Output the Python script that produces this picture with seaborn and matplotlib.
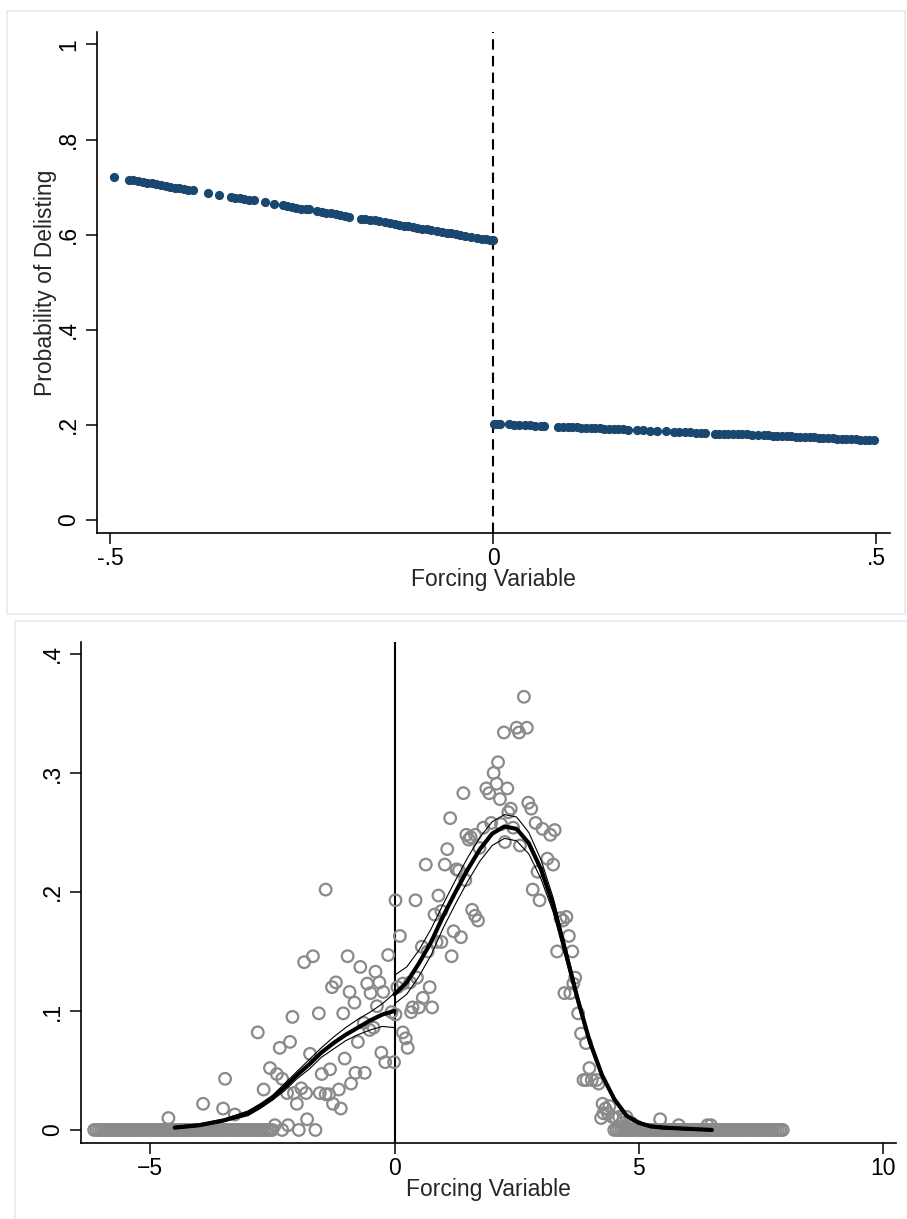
import matplotlib
matplotlib.use('Agg')
import matplotlib.pyplot as plt
from matplotlib.patches import Rectangle
import seaborn as sns
import pandas as pd

sns.set_style('ticks')
plt.rcParams['font.family'] = ['Liberation Sans', 'DejaVu Sans']

# ── Panel 1 : predicted probability of delisting ─────────────────────
below_x = [-0.495, -0.476, -0.470, -0.464, -0.458, -0.452, -0.446, -0.440, -0.434, -0.428,
           -0.422, -0.416, -0.410, -0.404, -0.398, -0.392, -0.373, -0.358, -0.343, -0.337,
           -0.331, -0.325, -0.319, -0.313, -0.298, -0.286, -0.275, -0.269, -0.263, -0.257,
           -0.251, -0.245, -0.241, -0.230, -0.224, -0.218, -0.212, -0.206, -0.200, -0.194,
           -0.188, -0.173, -0.167, -0.161, -0.155, -0.149, -0.142, -0.135, -0.129, -0.123,
           -0.117, -0.112, -0.105, -0.099, -0.093, -0.087, -0.081, -0.074, -0.067, -0.061,
           -0.055, -0.049, -0.043, -0.037, -0.029, -0.021, -0.015, -0.009, -0.004, -0.001]
below_p = [0.721, 0.716, 0.714, 0.712, 0.711, 0.709, 0.708, 0.706, 0.704, 0.703,
           0.701, 0.699, 0.698, 0.696, 0.695, 0.693, 0.688, 0.684, 0.680, 0.678,
           0.677, 0.675, 0.673, 0.672, 0.668, 0.665, 0.662, 0.660, 0.658, 0.657,
           0.655, 0.654, 0.653, 0.650, 0.648, 0.646, 0.645, 0.643, 0.642, 0.640,
           0.638, 0.634, 0.633, 0.631, 0.630, 0.628, 0.626, 0.624, 0.623, 0.621,
           0.619, 0.618, 0.616, 0.615, 0.613, 0.611, 0.610, 0.608, 0.606, 0.604,
           0.603, 0.601, 0.600, 0.598, 0.596, 0.594, 0.592, 0.590, 0.589, 0.588]

above_x = [0.001, 0.005, 0.009, 0.020, 0.027, 0.034, 0.041, 0.048, 0.055, 0.062,
           0.066, 0.085, 0.091, 0.097, 0.103, 0.109, 0.115, 0.121, 0.127, 0.133,
           0.139, 0.145, 0.151, 0.157, 0.163, 0.169, 0.176, 0.187, 0.196, 0.205,
           0.214, 0.225, 0.236, 0.243, 0.250, 0.257, 0.264, 0.271, 0.277, 0.289,
           0.295, 0.301, 0.307, 0.313, 0.319, 0.325, 0.331, 0.338, 0.345, 0.353,
           0.359, 0.365, 0.371, 0.377, 0.383, 0.389, 0.395, 0.401, 0.407, 0.413,
           0.419, 0.425, 0.431, 0.437, 0.443, 0.449, 0.455, 0.461, 0.467, 0.473,
           0.479, 0.485, 0.491, 0.497]
above_p = [0.202, 0.202, 0.201, 0.201, 0.200, 0.200, 0.199, 0.199, 0.198, 0.198,
           0.198, 0.196, 0.196, 0.195, 0.195, 0.195, 0.194, 0.194, 0.193, 0.193,
           0.193, 0.192, 0.192, 0.191, 0.191, 0.191, 0.190, 0.189, 0.189, 0.188,
           0.187, 0.187, 0.186, 0.185, 0.185, 0.185, 0.184, 0.184, 0.183, 0.182,
           0.182, 0.182, 0.181, 0.181, 0.180, 0.180, 0.180, 0.179, 0.179, 0.178,
           0.178, 0.177, 0.177, 0.176, 0.176, 0.176, 0.175, 0.175, 0.174, 0.174,
           0.174, 0.173, 0.173, 0.172, 0.172, 0.171, 0.171, 0.171, 0.170, 0.170,
           0.169, 0.169, 0.169, 0.168]

top_xticks = [-0.5, 0, 0.5]
top_xlabels = ['-.5', '0', '.5']
top_yticks = [0, 0.2, 0.4, 0.6, 0.8, 1]
top_ylabels = ['0', '.2', '.4', '.6', '.8', '1']

# ── Panel 2 : density test (binned histogram + local fit) ───────────
bin_x = [-4.63, -3.92, -3.51, -3.47, -3.27, -2.80, -2.68, -2.55, -2.41, -2.35,
         -2.30, -2.20, -2.14, -2.09, -2.00, -2.06, -1.91, -1.85, -1.79, -1.73,
         -1.67, -1.81, -1.55, -1.49, -1.41, -1.53, -1.41, -1.34, -1.32, -1.28,
         -1.20, -1.26, -1.10, -1.14, -1.05, -1.02, -0.96, -0.92, -0.89, -0.82,
         -0.75, -0.80, -0.70, -0.63, -0.61, -0.56, -0.49, -0.43, -0.39, -0.36,
         -0.31, -0.27, -0.23, -0.19, -0.13, -0.06, -0.01, -0.51, -2.45, -2.18,
         0.02, 0.11, 0.06, 0.02, 0.17, 0.32, 0.17, 0.23, 0.27, 0.34,
         0.37, 0.43, 0.46, 0.50, 0.56, 0.58, 0.64, 0.68, 0.72, 0.77,
         0.82, 0.90, 0.86, 0.96, 0.96, 1.03, 1.08, 1.14, 1.17, 1.21,
         1.27, 1.32, 1.36, 1.41, 1.45, 1.47, 1.52, 1.56, 1.59, 1.65,
         1.71, 1.65, 1.74, 1.82, 1.88, 1.94, 1.98, 2.03, 2.09, 2.12,
         2.16, 2.18, 2.24, 2.26, 2.31, 2.33, 2.38, 2.43, 2.50, 2.55,
         2.57, 2.65, 2.71, 2.74, 2.80, 2.83, 2.89, 2.93, 2.97, 3.03,
         3.13, 3.19, 3.25, 3.28, 3.33, 3.40, 3.45, 3.52, 3.57, 3.64,
         3.66, 3.70, 3.48, 3.60, 3.76, 3.82, 3.92, 3.99, 3.87, 3.93,
         4.04, 4.14, 4.18, 4.26, 4.32, 4.23, 4.28, 4.40, 4.37, 4.46,
         4.53, 4.60, 4.70, 4.75, 4.66, 4.85, 4.96, 5.44, 5.82, 6.41,
         6.48]
bin_y = [0.010, 0.022, 0.018, 0.043, 0.013, 0.082, 0.034, 0.052, 0.047, 0.069,
         0.043, 0.031, 0.074, 0.095, 0.022, 0.031, 0.035, 0.141, 0.009, 0.064,
         0.146, 0.031, 0.098, 0.047, 0.202, 0.031, 0.030, 0.030, 0.051, 0.120,
         0.124, 0.022, 0.018, 0.034, 0.098, 0.060, 0.146, 0.116, 0.039, 0.107,
         0.074, 0.048, 0.137, 0.090, 0.048, 0.123, 0.115, 0.086, 0.133, 0.104,
         0.124, 0.065, 0.116, 0.057, 0.147, 0.099, 0.057, 0.084, 0.004, 0.004,
         0.193, 0.163, 0.120, 0.097, 0.123, 0.124, 0.082, 0.077, 0.069, 0.099,
         0.103, 0.193, 0.128, 0.103, 0.154, 0.111, 0.223, 0.150, 0.120, 0.103,
         0.181, 0.197, 0.158, 0.158, 0.184, 0.223, 0.236, 0.262, 0.146, 0.167,
         0.219, 0.218, 0.162, 0.283, 0.210, 0.248, 0.244, 0.246, 0.185, 0.180,
         0.176, 0.248, 0.237, 0.254, 0.287, 0.283, 0.258, 0.300, 0.291, 0.309,
         0.278, 0.257, 0.334, 0.242, 0.287, 0.267, 0.270, 0.254, 0.338, 0.334,
         0.239, 0.364, 0.338, 0.275, 0.270, 0.202, 0.258, 0.217, 0.193, 0.253,
         0.228, 0.248, 0.223, 0.252, 0.150, 0.178, 0.176, 0.179, 0.163, 0.150,
         0.123, 0.128, 0.115, 0.115, 0.098, 0.081, 0.073, 0.052, 0.042, 0.042,
         0.042, 0.042, 0.039, 0.022, 0.018, 0.010, 0.014, 0.020, 0.014, 0.011,
         0.010, 0.011, 0.009, 0.011, 0.006, 0.006, 0.003, 0.009, 0.004, 0.004,
         0.004]

# empty bins (height 0)
zero_x = [-6.15, -6.10, -6.05, -6.00, -5.95, -5.90, -5.85, -5.80, -5.75, -5.70,
          -5.65, -5.60, -5.55, -5.50, -5.45, -5.40, -5.35, -5.30, -5.25, -5.20,
          -5.15, -5.10, -5.05, -5.00, -4.95, -4.90, -4.85, -4.80, -4.75, -4.70,
          -4.65, -4.60, -4.55, -4.50, -4.45, -4.40, -4.35, -4.30, -4.25, -4.20,
          -4.15, -4.10, -4.05, -4.00, -3.95, -3.90, -3.85, -3.80, -3.75, -3.70,
          -3.65, -3.60, -3.55, -3.50, -3.45, -3.40, -3.35, -3.30, -3.25, -3.20,
          -3.15, -3.10, -3.05, -3.00, -2.95, -2.90, -2.85, -2.80, -2.75, -2.70,
          -2.65, -2.60, -2.55, -2.50, -2.30, -1.96, -1.62,
          4.50, 4.55, 4.60, 4.65, 4.70, 4.75, 4.80, 4.85, 4.90, 4.95,
          5.00, 5.05, 5.10, 5.15, 5.20, 5.25, 5.30, 5.35, 5.40, 5.45,
          5.50, 5.55, 5.60, 5.65, 5.70, 5.75, 5.80, 5.85, 5.90, 5.95,
          6.00, 6.05, 6.10, 6.15, 6.20, 6.25, 6.30, 6.35, 6.40, 6.45,
          6.50, 6.55, 6.60, 6.65, 6.70, 6.75, 6.80, 6.85, 6.90, 6.95,
          7.00, 7.05, 7.10, 7.15, 7.20, 7.25, 7.30, 7.35, 7.40, 7.45,
          7.50, 7.55, 7.60, 7.65, 7.70, 7.75, 7.80, 7.85, 7.90, 7.95]
zero_y = [0.0] * len(zero_x)

# local linear density fit, each side of the cutoff, with 95% CI
fitL_x = [-4.5, -4.0, -3.5, -3.0, -2.75, -2.5, -2.25, -2.0, -1.75, -1.5, -1.25, -1.0, -0.75, -0.5, -0.25, 0.0]
fitL_y = [0.002, 0.004, 0.008, 0.014, 0.020, 0.027, 0.036, 0.046, 0.055, 0.065, 0.073, 0.080, 0.086, 0.092, 0.097, 0.100]
fitL_hi = [0.003, 0.005, 0.009, 0.016, 0.022, 0.029, 0.039, 0.049, 0.059, 0.069, 0.078, 0.086, 0.093, 0.099, 0.106, 0.115]
fitL_lo = [0.001, 0.003, 0.007, 0.012, 0.018, 0.025, 0.033, 0.043, 0.051, 0.061, 0.068, 0.075, 0.080, 0.084, 0.087, 0.086]

fitR_x = [0.0, 0.25, 0.5, 0.75, 1.0, 1.25, 1.5, 1.75, 2.0, 2.25, 2.5, 2.75, 3.0, 3.25,
          3.5, 3.75, 4.0, 4.25, 4.5, 4.75, 5.0, 5.25, 5.5, 6.0, 6.5]
fitR_y = [0.114, 0.124, 0.140, 0.158, 0.180, 0.200, 0.219, 0.236, 0.249, 0.255, 0.253, 0.241, 0.219, 0.189,
          0.150, 0.110, 0.074, 0.046, 0.026, 0.012, 0.006, 0.003, 0.002, 0.001, 0.000]
fitR_hi = [0.130, 0.137, 0.151, 0.169, 0.190, 0.210, 0.229, 0.246, 0.259, 0.265, 0.263, 0.250, 0.227, 0.195,
           0.155, 0.114, 0.077, 0.048, 0.027, 0.013, 0.007, 0.004, 0.003, 0.001, 0.001]
fitR_lo = [0.106, 0.114, 0.129, 0.147, 0.170, 0.190, 0.209, 0.226, 0.239, 0.245, 0.243, 0.232, 0.211, 0.183,
           0.145, 0.106, 0.071, 0.044, 0.025, 0.011, 0.005, 0.002, 0.001, 0.000, 0.000]

bot_xticks = [-5, 0, 5, 10]
bot_xlabels = ['\u22125', '0', '5', '10']
bot_yticks = [0, 0.1, 0.2, 0.3, 0.4]
bot_ylabels = ['0', '.1', '.2', '.3', '.4']

NAVY = '#1a476f'
GREY = '#8a8a8a'
FS = 16.5

fig = plt.figure(figsize=(9.07, 12.19), dpi=100)

# light outer frames round each graph
for (x0, y0, w, h) in [(0.0077, 0.4963, 0.990, 0.4947), (0.016, -0.01, 0.99, 0.5006)]:
    fig.patches.append(Rectangle((x0, y0), w, h, transform=fig.transFigure,
                                 fill=False, edgecolor='#e3eaee', linewidth=1.2))


def style_axes(ax):
    sns.despine(ax=ax)
    for s in ['left', 'bottom']:
        ax.spines[s].set_linewidth(1.2)
        ax.spines[s].set_color('black')
    ax.tick_params(axis='both', direction='out', length=8, width=1.1,
                   labelsize=FS, colors='black')
    ax.tick_params(axis='x', pad=2)
    ax.tick_params(axis='y', pad=4)
    for lab in ax.get_yticklabels():
        lab.set_rotation(90)
        lab.set_va('center')


# ── Top graph ────────────────────────────────────────────────────────
ax1 = fig.add_axes([0.1069, 0.5628, 0.8744, 0.4109])
ax1.axvline(0, color='black', linestyle=(0, (5, 3)), linewidth=1.5, zorder=1)
sns.scatterplot(x=below_x, y=below_p, ax=ax1, color=NAVY, s=44, linewidth=0, zorder=3)
sns.scatterplot(x=above_x, y=above_p, ax=ax1, color=NAVY, s=44, linewidth=0, zorder=3)
ax1.set_xlim(-0.5175, 0.518)
ax1.set_ylim(-0.027, 1.026)
ax1.set_xticks(top_xticks, top_xlabels)
ax1.set_yticks(top_yticks, top_ylabels)
ax1.set_xlabel('Forcing Variable', fontsize=FS, labelpad=-1.5)
ax1.set_ylabel('Probability of Delisting', fontsize=FS, labelpad=0.5)
style_axes(ax1)

# ── Bottom graph ─────────────────────────────────────────────────────
ax2 = fig.add_axes([0.0893, 0.0623, 0.8986, 0.411])
ax2.axvline(0, color='black', linewidth=1.5, zorder=1)
sns.scatterplot(x=zero_x + bin_x, y=zero_y + bin_y, ax=ax2, s=70,
                facecolor='none', edgecolor=GREY, linewidth=1.6, zorder=2)

for fx, fy, lo, hi in [(fitL_x, fitL_y, fitL_lo, fitL_hi), (fitR_x, fitR_y, fitR_lo, fitR_hi)]:
    sns.lineplot(x=fx, y=hi, ax=ax2, color='black', linewidth=0.8, sort=False, estimator=None, zorder=3)
    sns.lineplot(x=fx, y=lo, ax=ax2, color='black', linewidth=0.8, sort=False, estimator=None, zorder=3)
    sns.lineplot(x=fx, y=fy, ax=ax2, color='black', linewidth=3.0, sort=False, estimator=None, zorder=4)

ax2.set_xlim(-6.42, 10.27)
ax2.set_ylim(-0.011, 0.410)
ax2.set_xticks(bot_xticks, bot_xlabels)
ax2.set_yticks(bot_yticks, bot_ylabels)
ax2.set_xlabel('Forcing Variable', fontsize=FS, labelpad=-1.5)
ax2.set_ylabel('')
style_axes(ax2)

fig.savefig('out.png', dpi=100)
